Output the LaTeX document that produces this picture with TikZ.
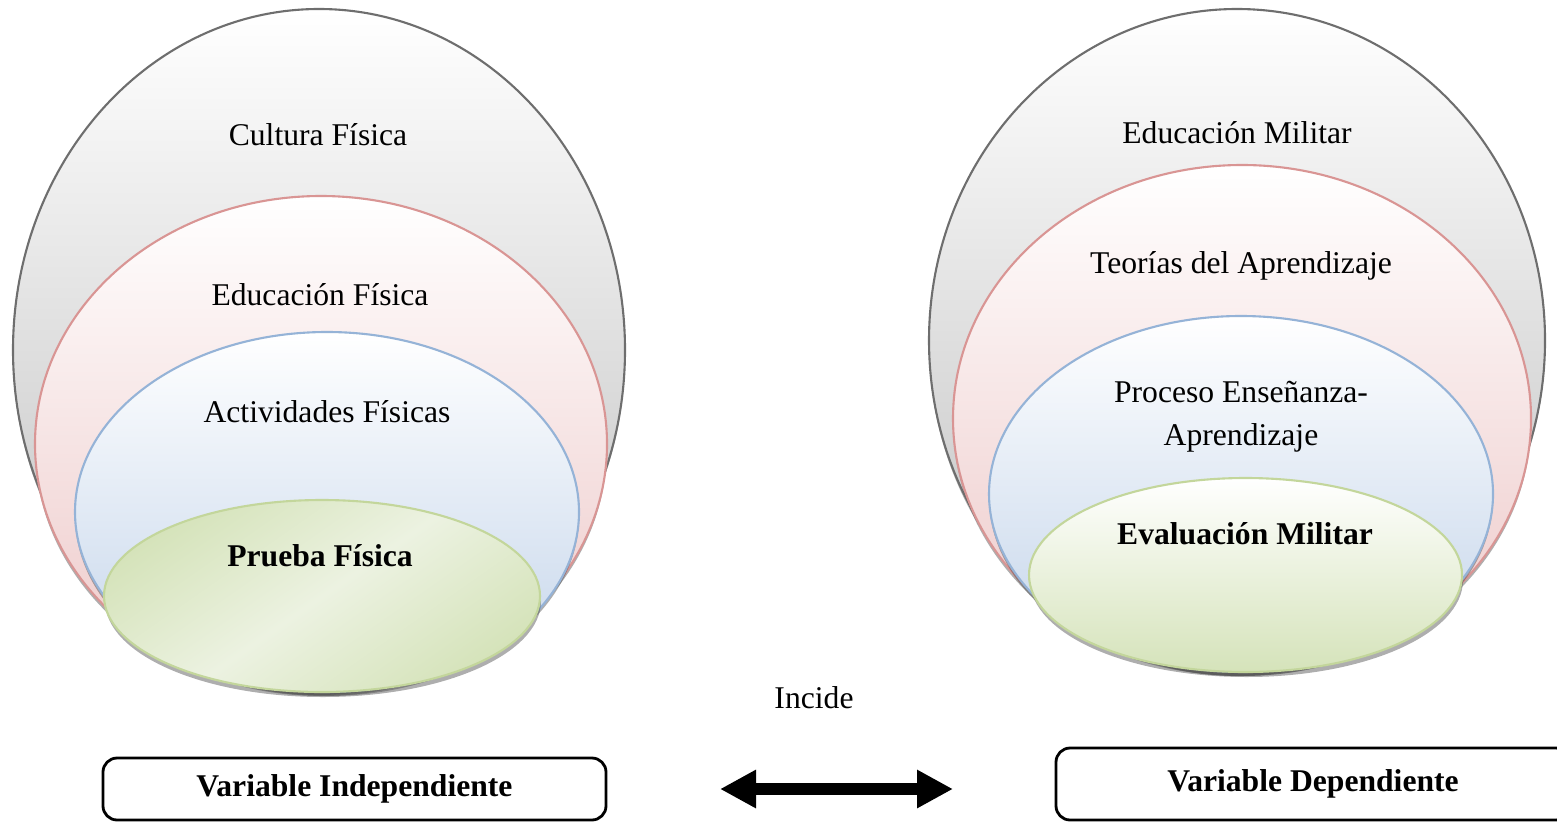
\documentclass[tikz,border=0pt]{standalone}
\usepackage{fontspec}
\setmainfont{Liberation Serif}
\usetikzlibrary{arrows.meta}
\definecolor{grisborde}{HTML}{6E6E6E}
\definecolor{grisfondo}{HTML}{BEBEBE}
\definecolor{rojoborde}{HTML}{D99594}
\definecolor{rojofondo}{HTML}{EDC8C8}
\definecolor{azulborde}{HTML}{95B3D7}
\definecolor{azulfondo}{HTML}{C3D4EA}
\definecolor{verdeborde}{HTML}{C3D69B}
\definecolor{verdefondo}{HTML}{D5E3BA}
\definecolor{verdeclaro}{HTML}{ECF2E1}
\begin{document}
\begin{tikzpicture}[font=\fontsize{9}{12.2}\selectfont, line join=round, line cap=round,
    sombra/.style={fill=black!70, opacity=.45},
    capa/.style={line width=0.6pt},
    caja/.style={draw, rounded corners=4pt, line width=0.8pt, font=\fontsize{9}{11}\selectfont\bfseries},
    flecha/.style={line width=0.12cm, {Triangle[length=0.36cm,width=0.36cm]}-{Triangle[length=0.36cm,width=0.36cm]}}]
    \useasboundingbox (0,0) rectangle (15.57,8.22);
    % variable independiente
    \fill[sombra,yshift=-0.4mm] (3.19,4.72) ellipse (3.06 and 3.41);
    \shadedraw[capa, draw=grisborde, top color=white, bottom color=grisfondo] (3.19,4.72) ellipse (3.06 and 3.41);
    \fill[sombra,yshift=-0.4mm] (3.21,3.78) ellipse (2.86 and 2.48);
    \shadedraw[capa, draw=rojoborde, top color=white, bottom color=rojofondo] (3.21,3.78) ellipse (2.86 and 2.48);
    \fill[sombra,yshift=-0.4mm] (3.27,3.10) ellipse (2.52 and 1.80);
    \shadedraw[capa, draw=azulborde, top color=white, bottom color=azulfondo] (3.27,3.10) ellipse (2.52 and 1.80);
    \fill[sombra,yshift=-0.5mm] (3.23,2.26) ellipse (2.18 and 0.96);
    \shadedraw[capa, draw=verdeborde, top color=verdefondo, bottom color=verdefondo, middle color=verdeclaro, shading angle=35] (3.22,2.26) ellipse (2.18 and 0.96);
    \node (cultura) at (3.18,6.87) {Cultura Física};
    \node (edfisica) at (3.20,5.27) {Educación Física};
    \node (actividades) at (3.27,4.10) {Actividades Físicas};
    \node[font=\fontsize{9}{11}\selectfont\bfseries] (prueba) at (3.20,2.66) {Prueba Física};
    % variable dependiente
    \fill[sombra,yshift=-0.4mm] (12.37,4.815) ellipse (3.08 and 3.315);
    \shadedraw[capa, draw=grisborde, top color=white, bottom color=grisfondo] (12.37,4.815) ellipse (3.08 and 3.315);
    \fill[sombra,yshift=-0.4mm] (12.42,4.035) ellipse (2.89 and 2.535);
    \shadedraw[capa, draw=rojoborde, top color=white, bottom color=rojofondo] (12.42,4.035) ellipse (2.89 and 2.535);
    \fill[sombra,yshift=-0.4mm] (12.41,3.28) ellipse (2.52 and 1.78);
    \shadedraw[capa, draw=azulborde, top color=white, bottom color=azulfondo] (12.41,3.28) ellipse (2.52 and 1.78);
    \fill[sombra,yshift=-0.5mm] (12.465,2.47) ellipse (2.165 and 0.97);
    \shadedraw[capa, draw=verdeborde, top color=white, bottom color=verdefondo] (12.455,2.47) ellipse (2.165 and 0.97);
    \node (edmilitar) at (12.37,6.89) {Educación Militar};
    \node (teorias) at (12.41,5.56) {Teorías del Aprendizaje};
    \node[align=center] (proceso) at (12.41,4.055) {Proceso Enseñanza-\\Aprendizaje};
    \node[font=\fontsize{9}{11}\selectfont\bfseries] (evaluacion) at (12.45,2.88) {Evaluación Militar};
    % relacion
    \node (incide) at (8.14,1.24) {Incide};
    \node[caja, minimum width=5.03cm, minimum height=0.62cm] (vi) at (3.545,0.33) {Variable Independiente};
    \node[caja, minimum width=5.14cm, minimum height=0.72cm] (vd) at (13.13,0.38) {Variable Dependiente};
    \coordinate (izq) at (7.20,0.33);
    \coordinate (der) at (9.53,0.33);
    \draw[flecha] (izq) -- (der);
\end{tikzpicture}
\end{document}
